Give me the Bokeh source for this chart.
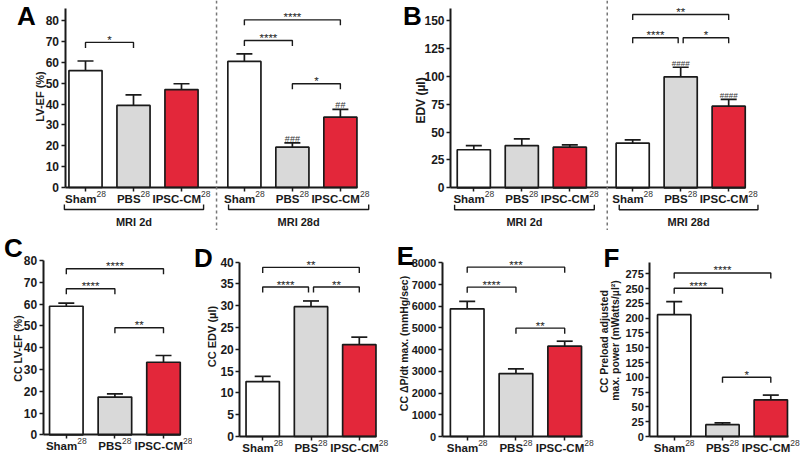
import math
from bokeh.plotting import figure
from bokeh.models import Range1d, LinearAxis, FixedTicker, Span
from bokeh.layouts import row, column
from bokeh.embed import file_html
from bokeh.resources import INLINE
from bokeh.core.properties import value

# ---------------- data ----------------
group_names = ["Sham", "PBS", "IPSC-CM"]
group_sup = "28"
mri_labels = ["MRI 2d", "MRI 28d"]

a_mean = [56.0, 39.3, 46.9, 60.4, 19.3, 33.7]
a_sem = [4.6, 5.1, 2.8, 3.6, 2.1, 3.7]
a_ticks = [0, 10, 20, 30, 40, 50, 60, 70, 80]
a_sig_from = [0, 3, 3, 4]
a_sig_to = [1, 5, 4, 5]
a_sig_y = [69.5, 80.3, 70.4, 49.7]
a_sig_text = ["*", "****", "****", "*"]
a_hash_bar = [4, 5]
a_hash_text = ["###", "##"]

b_mean = [34.1, 37.9, 36.4, 40.0, 99.5, 73.2]
b_sem = [3.8, 6.0, 2.1, 3.0, 8.6, 6.0]
b_ticks = [0, 25, 50, 75, 100, 125, 150]
b_sig_from = [3, 3, 4]
b_sig_to = [5, 4, 5]
b_sig_y = [155.4, 134.5, 134.5]
b_sig_text = ["**", "****", "*"]
b_hash_bar = [4, 5]
b_hash_text = ["####", "####"]

c_mean = [59.0, 17.3, 33.3]
c_sem = [1.4, 1.5, 3.1]
c_ticks = [0, 10, 20, 30, 40, 50, 60, 70, 80]
c_sig_y = [76.2, 67.0, 49.1]
c_sig_text = ["****", "****", "**"]

d_mean = [12.6, 29.8, 21.1]
d_sem = [1.2, 1.3, 1.7]
d_ticks = [0, 5, 10, 15, 20, 25, 30, 35, 40]
d_sig_y = [38.8, 34.3, 34.3]
d_sig_text = ["**", "****", "**"]

e_mean = [5880, 2900, 4160]
e_sem = [340, 215, 230]
e_ticks = [0, 1000, 2000, 3000, 4000, 5000, 6000, 7000, 8000]
e_sig_y = [7800, 6880, 4990]
e_sig_text = ["***", "****", "**"]

f_mean = [206, 20, 62]
f_sem = [22, 3, 8]
f_ticks = [0, 25, 50, 75, 100, 125, 150, 175, 200, 225, 250, 275]
f_sig_y = [276.5, 250.6, 100.2]
f_sig_text = ["****", "****", "*"]

cc_sig_from = [0, 0, 1]
cc_sig_to = [2, 1, 2]

# ---------------- style / layout ----------------
KX = 1.0
KY = 1.0
FS = 1.0
FONT = value("Liberation Sans")
INK = "#1a1a1a"
BAR_FILLS = ["#ffffff", "#d9d9d9", "#e3273a"]
BOLD_W = {"S": 667, "h": 611, "a": 556, "m": 889, "P": 667, "B": 722, "I": 278,
          "C": 722, "-": 333, "M": 833}
WORD_FS = 11.5
SUP_FS = 8.5


def fpx(v):
    return f"{v * FS:.1f}px"


def make_panel(spec):
    wref, href = spec["size"]
    x0, sx, base, sy = spec["x0"], spec["sx"], spec["base"], spec["sy"]
    p = figure(width=round(wref * KX), height=round(href * KY),
               x_range=Range1d(-x0 / sx, (wref - x0) / sx),
               y_range=Range1d((base - href) / sy, base / sy),
               output_backend="svg", toolbar_location=None, title=None,
               x_axis_location=None, y_axis_location=None, min_border=0)
    p.outline_line_color = None
    p.grid.visible = False
    p.background_fill_color = "white"
    p.border_fill_color = "white"

    def X(px):
        return (px - x0) / sx

    def Y(py):
        return (base - py) / sy

    xs = spec["xpos"]
    means = spec["mean"]
    sems = spec["sem"]
    n = len(xs)
    tops = [m + s for m, s in zip(means, sems)]
    fills = [BAR_FILLS[i % 3] for i in range(n)]

    if spec.get("dash") is not None:
        p.add_layout(Span(location=spec["dash"], dimension="height", line_color="#777777",
                          line_dash="3 3", line_width=1.5))

    # error bars
    cap = 8 / sx
    p.segment(x0=xs, y0=means, x1=xs, y1=tops, line_color=INK, line_width=1.7)
    p.segment(x0=[x - cap for x in xs], y0=tops, x1=[x + cap for x in xs], y1=tops,
              line_color=INK, line_width=1.7)
    # bars
    p.vbar(x=xs, top=means, bottom=0, width=0.69, fill_color=fills,
           line_color=INK, line_width=1.7)

    # axes
    yax_x = X(spec["yaxis_px"])
    yax = LinearAxis(fixed_location=yax_x, bounds=(0, spec["ytop"]),
                     ticker=FixedTicker(ticks=spec["yticks"], minor_ticks=[]))
    yax.axis_line_width = 2
    yax.axis_line_color = INK
    yax.major_tick_line_width = 1.5
    yax.major_tick_line_color = INK
    yax.major_tick_out = 4
    yax.major_tick_in = 0
    yax.minor_tick_out = 0
    yax.minor_tick_in = 0
    yax.major_label_standoff = 2
    yax.major_label_text_font = "Liberation Sans"
    yax.major_label_text_font_style = "bold"
    yax.major_label_text_font_size = fpx(spec["tick_fs"])
    yax.major_label_text_color = INK
    p.add_layout(yax, "left")

    xax = LinearAxis(fixed_location=0, bounds=(yax_x, xs[-1] + 0.36),
                     ticker=FixedTicker(ticks=xs, minor_ticks=[]))
    xax.axis_line_width = 2
    xax.axis_line_color = INK
    xax.major_tick_line_width = 1.5
    xax.major_tick_line_color = INK
    xax.major_tick_out = 4
    xax.major_tick_in = 0
    xax.minor_tick_out = 0
    xax.minor_tick_in = 0
    xax.major_label_text_color = None
    p.add_layout(xax, "below")

    # category labels with superscript
    words = [group_names[i % 3] for i in range(n)]
    w2 = 1112 * SUP_FS * FS / 1000
    w1 = [sum(BOLD_W[c] for c in wd) * WORD_FS * FS / 1000 for wd in words]
    p.text(x=xs, y=[0] * n, text=words, x_offset=[-w2 / 2] * n, y_offset=11.5 * KY,
           text_align="center", text_baseline="middle", text_font=FONT,
           text_font_style="bold", text_font_size=fpx(WORD_FS), text_color=INK)
    p.text(x=xs, y=[0] * n, text=[group_sup] * n, x_offset=[w / 2 - w2 / 2 for w in w1],
           y_offset=6 * KY, text_align="left", text_baseline="middle", text_font=FONT,
           text_font_size=fpx(SUP_FS), text_color="#333333")

    # significance brackets
    leg = 5.5 / sy
    sf, st, sy_, stx = spec["sig_from"], spec["sig_to"], spec["sig_y"], spec["sig_text"]
    lx, ly, tx = [], [], []
    for k in range(len(sf)):
        xa, xb = xs[sf[k]], xs[st[k]]
        for m in range(len(sf)):
            if m != k and sy_[m] == sy_[k]:
                if st[m] == sf[k]:
                    xa += 2.5 / sx
                if sf[m] == st[k]:
                    xb -= 2.5 / sx
        lx.append([xa, xa, xb, xb])
        ly.append([sy_[k] - leg, sy_[k], sy_[k], sy_[k] - leg])
        tx.append((xa + xb) / 2)
    p.multi_line(xs=lx, ys=ly, line_color=INK, line_width=1.4)
    p.text(x=tx, y=sy_, text=stx, y_offset=-2.5, text_align="center",
           text_baseline="alphabetic", text_font=FONT, text_font_size=fpx(11.5),
           text_color="#222222")

    # hash marks
    if spec.get("hash_bar"):
        hb = spec["hash_bar"]
        p.text(x=[xs[b] for b in hb], y=[tops[b] for b in hb], text=spec["hash_text"],
               y_offset=-4, text_align="center", text_baseline="alphabetic",
               text_font=FONT, text_font_size=fpx(spec["hash_fs"]), text_color="#333333")

    # group brackets under the axis
    if spec.get("groups"):
        yb = -22 / sy
        gl = 5 / sy
        gx, gy, gtx = [], [], []
        for (xa, xb) in spec["groups"]:
            gx.append([xa, xa, xb, xb])
            gy.append([yb + gl, yb, yb, yb + gl])
            gtx.append((xa + xb) / 2)
        p.multi_line(xs=gx, ys=gy, line_color=INK, line_width=1.4)
        p.text(x=gtx, y=[-34 / sy] * len(gtx), text=mri_labels, text_align="center",
               text_baseline="middle", text_font=FONT, text_font_style="bold",
               text_font_size=fpx(11), text_color=INK)

    # panel letter
    lxp, lyp = spec["letter_px"]
    p.text(x=[X(lxp)], y=[Y(lyp)], text=[spec["letter"]], text_align="center",
           text_baseline="middle", text_font=FONT, text_font_style="bold",
           text_font_size=fpx(26), text_color="#000000")

    # y-axis title(s)
    for (txt, (px_, py_)) in zip(spec["ylab"], spec["ylab_px"]):
        p.text(x=[X(px_)], y=[Y(py_)], text=[txt], angle=math.pi / 2, text_align="center",
               text_baseline="middle", text_font=FONT, text_font_style="bold",
               text_font_size=fpx(spec["ylab_fs"]), text_color=INK)
    return p


six = [0, 1, 2, 3.31, 4.31, 5.31]
three = [0, 1, 2]

pA = make_panel(dict(size=(400, 230), x0=85, sx=48, base=187, sy=167 / 80, xpos=six,
                     mean=a_mean, sem=a_sem, yticks=a_ticks, ytop=85.7, yaxis_px=64.5,
                     tick_fs=12, sig_from=a_sig_from, sig_to=a_sig_to, sig_y=a_sig_y,
                     sig_text=a_sig_text, hash_bar=a_hash_bar, hash_text=a_hash_text,
                     hash_fs=9, groups=[(-0.44, 2.46), (2.98, 5.9)], dash=2.73,
                     letter="A", letter_px=(26, 15), ylab=["LV-EF (%)"],
                     ylab_px=[(39, 96)], ylab_fs=11))
pB = make_panel(dict(size=(400, 230), x0=73.3, sx=48, base=187.3, sy=1.1153, xpos=six,
                     mean=b_mean, sem=b_sem, yticks=b_ticks, ytop=160.5, yaxis_px=50,
                     tick_fs=12, sig_from=b_sig_from, sig_to=b_sig_to, sig_y=b_sig_y,
                     sig_text=b_sig_text, hash_bar=b_hash_bar, hash_text=b_hash_text,
                     hash_fs=8, groups=[(-0.40, 2.51), (3.03, 5.92)], dash=2.78,
                     letter="B", letter_px=(12, 15), ylab=["EDV (µl)"],
                     ylab_px=[(20, 100)], ylab_fs=12))
pC = make_panel(dict(size=(192, 224), x0=65.8, sx=48.6, base=204.3, sy=2.179, xpos=three,
                     mean=c_mean, sem=c_sem, yticks=c_ticks, ytop=80, yaxis_px=42.7,
                     tick_fs=12, sig_from=cc_sig_from, sig_to=cc_sig_to, sig_y=c_sig_y,
                     sig_text=c_sig_text, letter="C", letter_px=(13, 17),
                     ylab=["CC LV-EF (%)"], ylab_px=[(17, 118)], ylab_fs=10.5))
pD = make_panel(dict(size=(203, 224), x0=70.2, sx=48.3, base=206, sy=4.358, xpos=three,
                     mean=d_mean, sem=d_sem, yticks=d_ticks, ytop=40, yaxis_px=47.3,
                     tick_fs=12, sig_from=cc_sig_from, sig_to=cc_sig_to, sig_y=d_sig_y,
                     sig_text=d_sig_text, letter="D", letter_px=(11, 27),
                     ylab=["CC EDV (µl)"], ylab_px=[(19, 106)], ylab_fs=11))
pE = make_panel(dict(size=(202, 224), x0=71.7, sx=48.75, base=206, sy=0.02171, xpos=three,
                     mean=e_mean, sem=e_sem, yticks=e_ticks, ytop=8000, yaxis_px=46.7,
                     tick_fs=11, sig_from=cc_sig_from, sig_to=cc_sig_to, sig_y=e_sig_y,
                     sig_text=e_sig_text, letter="E", letter_px=(10, 25),
                     ylab=["CC ΔP/dt max. (mmHg/sec)"], ylab_px=[(8, 113)], ylab_fs=10.5))
pF = make_panel(dict(size=(203, 224), x0=76.7, sx=48.3, base=206, sy=0.5915, xpos=three,
                     mean=f_mean, sem=f_sem, yticks=f_ticks, ytop=295, yaxis_px=52.3,
                     tick_fs=11, sig_from=cc_sig_from, sig_to=cc_sig_to, sig_y=f_sig_y,
                     sig_text=f_sig_text, letter="F", letter_px=(14, 27),
                     ylab=["CC Preload adjusted", "max. power (mWatts/µl²)"],
                     ylab_px=[(6, 111), (17.5, 110)], ylab_fs=10.5))

layout = column(row(pA, pB), row(pC, pD, pE, pF))
open("out.html", "w").write(file_html(layout, INLINE))
